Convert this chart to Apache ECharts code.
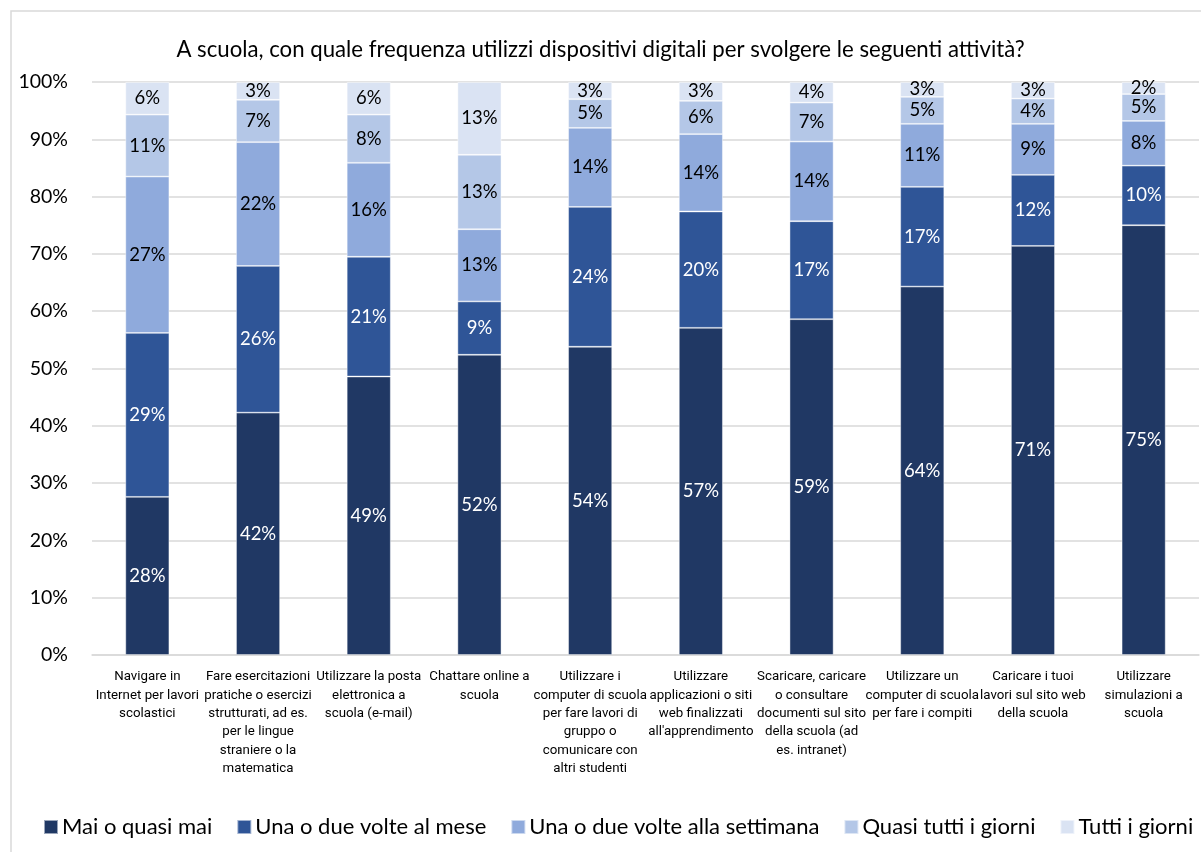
<!DOCTYPE html>
<html>
<head>
<meta charset="utf-8">
<script src="https://cdn.jsdelivr.net/npm/echarts@6/dist/echarts.min.js"></script>
<style>
  html, body { margin: 0; padding: 0; background: #fff; }
  #chart { width: 1201px; height: 852px; }
</style>
</head>
<body>
<div id="chart"></div>
<script>
// Activities (axis categories, with their line breaks)
const categories = [
  "Navigare in\nInternet per lavori\nscolastici",
  "Fare esercitazioni\npratiche o esercizi\nstrutturati, ad es.\nper le lingue\nstraniere o la\nmatematica",
  "Utilizzare la posta\nelettronica a\nscuola (e-mail)",
  "Chattare online a\nscuola",
  "Utilizzare i\ncomputer di scuola\nper fare lavori di\ngruppo o\ncomunicare con\naltri studenti",
  "Utilizzare\napplicazioni o siti\nweb finalizzati\nall'apprendimento",
  "Scaricare, caricare\no consultare\ndocumenti sul sito\ndella scuola (ad\nes. intranet)",
  "Utilizzare un\ncomputer di scuola\nper fare i compiti",
  "Caricare i tuoi\nlavori sul sito web\ndella scuola",
  "Utilizzare\nsimulazioni a\nscuola"
];

// Share of students (%) per frequency
const maiQuasiMai      = [27.6, 42.3, 48.6, 52.4, 53.8, 57.1, 58.6, 64.3, 71.4, 75.0];
const unaDueMese       = [28.6, 25.6, 20.9,  9.3, 24.4, 20.3, 17.1, 17.4, 12.4, 10.4];
const unaDueSettimana  = [27.3, 21.6, 16.4, 12.6, 13.8, 13.5, 13.9, 11.0,  8.9,  7.8];
const quasiTuttiGiorni = [10.8,  7.4,  8.4, 13.0,  5.0,  5.8,  6.8,  4.7,  4.4,  4.7];
const tuttiGiorni      = [ 5.7,  3.1,  5.7, 12.7,  3.0,  3.3,  3.6,  2.6,  2.9,  2.1];

const seriesNames = [
  "Mai o quasi mai",
  "Una o due volte al mese",
  "Una o due volte alla settimana",
  "Quasi tutti i giorni",
  "Tutti i giorni"
];
const seriesValues = [maiQuasiMai, unaDueMese, unaDueSettimana, quasiTuttiGiorni, tuttiGiorni];
const colors = ["#203864", "#2F5597", "#8FAADC", "#B4C7E7", "#DAE3F3"];
const labelColors = ["#ffffff", "#ffffff", "#000000", "#000000", "#000000"];

const yTicks = [0, 10, 20, 30, 40, 50, 60, 70, 80, 90, 100];

const chart = echarts.init(document.getElementById("chart"), null, { renderer: "canvas" });

chart.setOption({
  animation: false,
  backgroundColor: "#ffffff",
  color: colors,
  title: {
    text: "A scuola, con quale frequenza utilizzi dispositivi digitali per svolgere le seguenti attività?",
    left: "center",
    top: 34,
    textStyle: { fontFamily: "Lato", fontWeight: "normal", fontSize: 22.2, color: "#000" }
  },
  graphic: [{
    type: "rect",
    shape: { x: 11, y: 11, width: 1300, height: 1000 },
    style: { fill: "none", stroke: "#D9D9D9", lineWidth: 1.5 },
    silent: true,
    z: -1
  }],
  legend: {
    left: 38,
    top: 811,
    itemWidth: 14,
    itemHeight: 14,
    itemGap: 24,
    icon: "rect",
    textStyle: { fontFamily: "Lato", fontSize: 22, color: "#000", padding: [0, 0, 0, -1] },
    data: seriesNames
  },
  grid: { left: 92, right: 2, top: 82, bottom: 197, containLabel: false },
  xAxis: {
    type: "category",
    data: categories,
    axisLine: { show: true, lineStyle: { color: "#D9D9D9", width: 1.5 } },
    axisTick: { show: false },
    axisLabel: {
      interval: 0,
      margin: 13,
      fontFamily: "Roboto",
      fontSize: 13.3,
      lineHeight: 18.3,
      color: "#000"
    }
  },
  yAxis: {
    type: "value",
    min: 0,
    max: 100,
    interval: 10,
    axisLine: { show: false },
    axisTick: { show: false },
    splitLine: { lineStyle: { color: "#D9D9D9", width: 1.5 } },
    axisLabel: {
      margin: 24,
      fontFamily: "Lato",
      fontSize: 19.5,
      color: "#000",
      formatter: v => (yTicks.includes(v) ? v + "%" : "")
    }
  },
  series: seriesNames.map((name, i) => ({
    name: name,
    type: "bar",
    stack: "totale",
    barWidth: 44,
    data: seriesValues[i],
    itemStyle: { color: colors[i], borderColor: "rgba(255,255,255,0.55)", borderWidth: 0.8 },
    label: {
      show: true,
      position: "inside",
      fontFamily: "Lato",
      fontSize: 18.5,
      color: labelColors[i],
      formatter: p => Math.round(p.value) + "%"
    }
  }))
});
</script>
</body>
</html>
